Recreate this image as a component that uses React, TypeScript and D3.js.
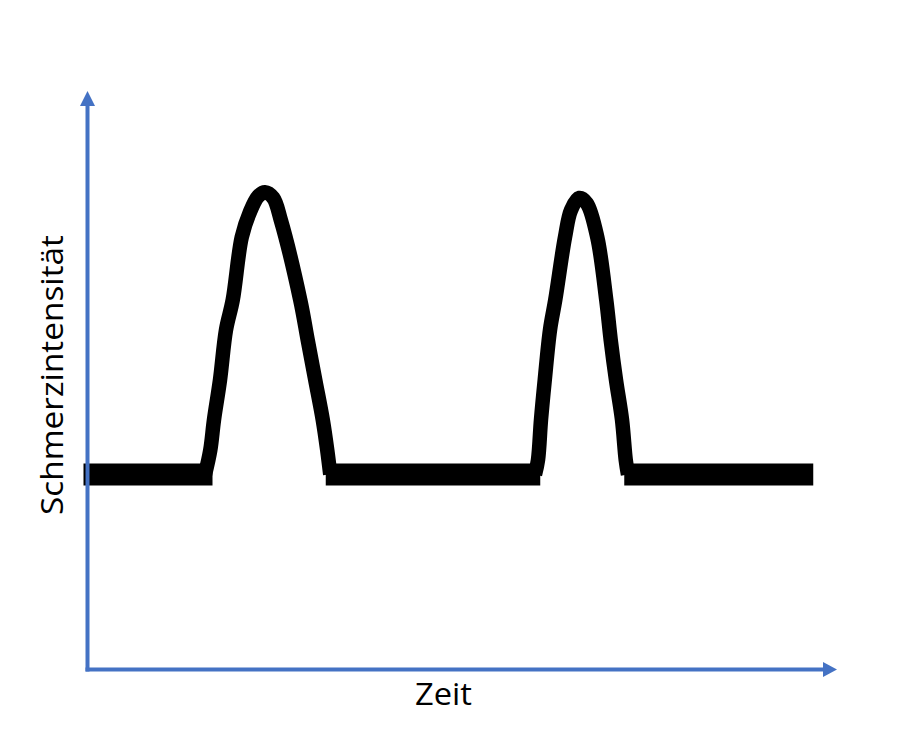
import React from "react";
import * as d3 from "d3";

// Time (arbitrary units) and pain intensity (arbitrary units) of the hand-drawn curve
const timeValues = [
  -0.6, 15.6, 16.3, 16.8, 17.6, 18.4, 19.3, 20.5, 21.6, 22.7, 23.6, 24.7, 25.7, 28.3, 29.3, 30.3, 31.3, 31.9, 32.3,
  59.6, 60.0, 60.4, 60.9, 61.6, 62.3, 63.6, 64.4, 65.5, 66.5, 67.9, 69.1, 69.7, 70.4, 71.2, 71.7, 72.0, 96.7,
];
const painValues = [
  33.6, 33.6, 37.8, 43.1, 50.0, 58.7, 63.9, 74.8, 79.2, 81.9, 82.6, 81.6, 77.8, 63.9, 56.9, 50.0, 43.1, 37.8, 33.6,
  33.6, 36.1, 43.1, 50.0, 58.7, 63.9, 74.8, 79.5, 81.6, 80.7, 74.8, 63.9, 56.9, 50.0, 43.1, 36.1, 33.6, 33.6,
];
// Flat (baseline) segments of the curve: [start time, end time]
const baselineStarts = [-0.6, 31.7, 71.5];
const baselineEnds = [16.6, 60.3, 96.7];
const baselineLevel = 33.6;

const xAxisLabel = "Zeit";
const yAxisLabel = "Schmerzintensität";

const W = 899;
const H = 738;
const axisColor = "#4472C4";

export default function App() {
  const x = d3.scaleLinear().domain([0, 100]).range([88, 838]);
  const y = d3.scaleLinear().domain([0, 100]).range([668, 92]);

  const pts: [number, number][] = timeValues.map((t, i) => [t, painValues[i]]);

  // group the points into peaks (contiguous points above baseline, plus the neighbours on the baseline)
  const peaks: [number, number][][] = [];
  let cur: [number, number][] | null = null;
  pts.forEach((p, i) => {
    if (p[1] > baselineLevel) {
      if (!cur) {
        cur = [pts[i - 1]];
        peaks.push(cur);
      }
      cur.push(p);
    } else if (cur) {
      cur.push(p);
      cur = null;
    }
  });

  const curve = d3
    .line<[number, number]>()
    .x((d) => x(d[0]))
    .y((d) => y(d[1]))
    .curve(d3.curveCatmullRom.alpha(0.5));
  const flat = d3
    .line<[number, number]>()
    .x((d) => x(d[0]))
    .y((d) => y(d[1]));

  const x0 = x(0) - 0.5;
  const yBase = y(0) + 1.5;
  const yTop = y(100);
  const xEnd = x(100) - 1;

  return (
    <div style={{ margin: -8, width: W, height: H }}>
      <svg width={W} height={H} style={{ display: "block", background: "#fff" }}>
        {/* curve */}
        {peaks.map((pk, i) => (
          <path
            key={"p" + i}
            d={curve(pk) || ""}
            fill="none"
            stroke="#000"
            strokeWidth={14.5}
            strokeLinejoin="round"
            strokeLinecap="butt"
          />
        ))}
        {baselineStarts.map((s, i) => (
          <path
            key={"b" + i}
            d={flat([
              [s, baselineLevel],
              [baselineEnds[i], baselineLevel],
            ]) || ""}
            fill="none"
            stroke="#000"
            strokeWidth={22}
            strokeLinecap="butt"
          />
        ))}
        {/* axes */}
        <line x1={x0} y1={yBase + 2} x2={x0} y2={yTop + 14} stroke={axisColor} strokeWidth={4} />
        <polygon
          points={`${x0},${yTop - 1} ${x0 - 7.5},${yTop + 14} ${x0 + 7.5},${yTop + 14}`}
          fill={axisColor}
        />
        <line x1={x0 - 2} y1={yBase} x2={xEnd - 14} y2={yBase} stroke={axisColor} strokeWidth={4} />
        <polygon
          points={`${xEnd},${yBase} ${xEnd - 14},${yBase - 7.5} ${xEnd - 14},${yBase + 7.5}`}
          fill={axisColor}
        />
        {/* labels */}
        <text
          x={443.5}
          y={705}
          textAnchor="middle"
          fontFamily="'Open Sans', 'Noto Sans', sans-serif"
          fontSize={31}
          textLength={57}
          lengthAdjust="spacingAndGlyphs"
          fill="#000"
        >
          {xAxisLabel}
        </text>
        <text
          transform={`translate(63,375) rotate(-90)`}
          textAnchor="middle"
          fontFamily="'Open Sans', 'Noto Sans', sans-serif"
          fontSize={31}
          textLength={280}
          lengthAdjust="spacingAndGlyphs"
          fill="#000"
        >
          {yAxisLabel}
        </text>
      </svg>
    </div>
  );
}
